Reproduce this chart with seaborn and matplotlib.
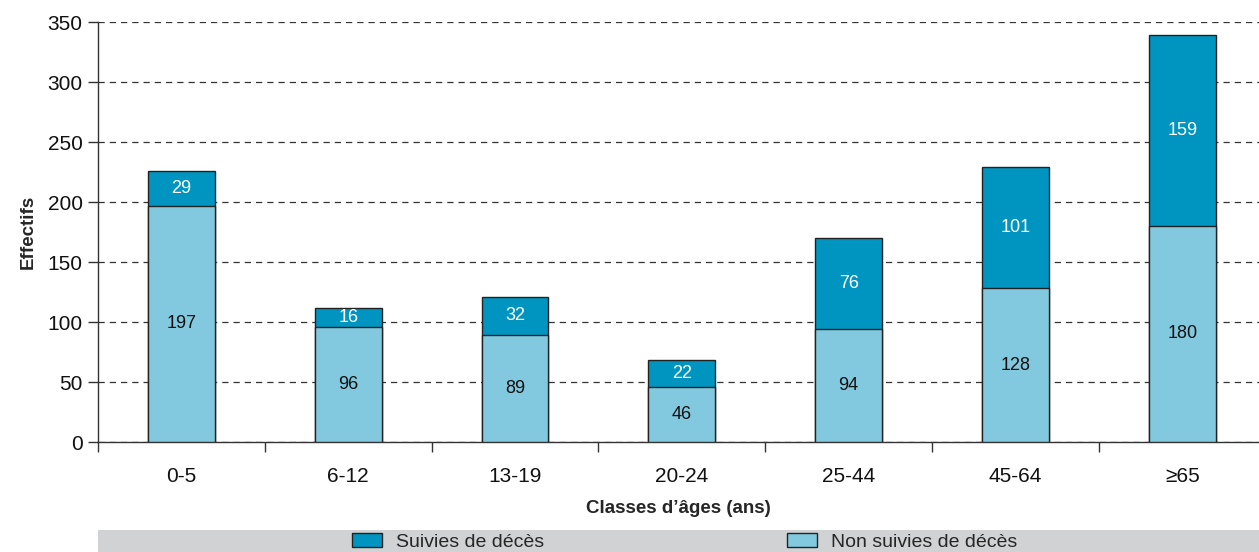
import matplotlib
matplotlib.use("Agg")
import matplotlib.pyplot as plt
import seaborn as sns
import numpy as np
from matplotlib.patches import Patch, Rectangle

categories = ["0-5", "6-12", "13-19", "20-24", "25-44", "45-64", "≥65"]
non_suivies = [197, 96, 89, 46, 94, 128, 180]
suivies = [29, 16, 32, 22, 76, 101, 159]
y_ticks = [0, 50, 100, 150, 200, 250, 300, 350]

dark = "#0095c0"
light = "#82c9df"
edge = "#222222"

sns.set_theme(style="white")
plt.rcParams["font.family"] = ["Liberation Sans Narrow", "Liberation Sans", "DejaVu Sans"]

fig = plt.figure(figsize=(12.59, 5.52), dpi=100)
ax = fig.add_axes([98 / 1259, 110 / 552, 1 - 98 / 1259, 420 / 552])

totals = [a + b for a, b in zip(non_suivies, suivies)]
sns.barplot(x=categories, y=totals, color=dark, edgecolor=edge, linewidth=1.0,
            width=0.4, saturation=1, ax=ax, zorder=3)
sns.barplot(x=categories, y=non_suivies, color=light, edgecolor=edge, linewidth=1.0,
            width=0.4, saturation=1, ax=ax, zorder=4)

for i, (n, s) in enumerate(zip(non_suivies, suivies)):
    ax.text(i, n / 2, str(n), ha="center", va="center", fontsize=13, color="#111111", zorder=5)
    ax.text(i, n + s / 2, str(s), ha="center", va="center", fontsize=13, color="white", zorder=5)

ax.set_xlim(-0.5, 6.46)
ax.set_ylim(0, 350)
ax.set_yticks(y_ticks)
ax.yaxis.grid(True, linestyle=(0, (5, 4)), color="#333333", linewidth=0.9, zorder=0)
ax.xaxis.grid(False)
ax.set_axisbelow(True)

for sp in ["top", "right"]:
    ax.spines[sp].set_visible(False)
for sp in ["left", "bottom"]:
    ax.spines[sp].set_color("#333333")
    ax.spines[sp].set_linewidth(1.0)

ax.tick_params(axis="y", left=True, length=7, width=1, color="#333333",
               labelsize=15, pad=4, labelcolor="#111111")
ax.tick_params(axis="x", bottom=False, labelsize=15, pad=12, labelcolor="#111111")
ax.set_xticks(np.arange(-0.5, 6.0, 1.0), minor=True)
ax.tick_params(axis="x", which="minor", bottom=True, length=7, width=1, color="#333333")

ax.set_ylabel("Effectifs", fontsize=13.5, fontweight="bold", labelpad=8)
ax.set_xlabel("Classes d’âges (ans)", fontsize=13.5, fontweight="bold", labelpad=10)

# legend band
fig.patches.append(Rectangle((98 / 1259, 0), 1 - 98 / 1259, 22 / 552,
                             transform=fig.transFigure, facecolor="#d0d2d3",
                             edgecolor="none", zorder=0))
handles = [Patch(facecolor=dark, edgecolor=edge, linewidth=1.0, label="Suivies de décès"),
           Patch(facecolor=light, edgecolor=edge, linewidth=1.0, label="Non suivies de décès")]
fig.legend(handles=handles, loc="center left", bbox_to_anchor=(352 / 1259, 10 / 552), ncol=2,
           frameon=False, fontsize=14, handlelength=1.55, handleheight=0.75,
           columnspacing=12.5, handletextpad=0.7, borderaxespad=0, borderpad=0)

fig.savefig("out.png", dpi=100)
